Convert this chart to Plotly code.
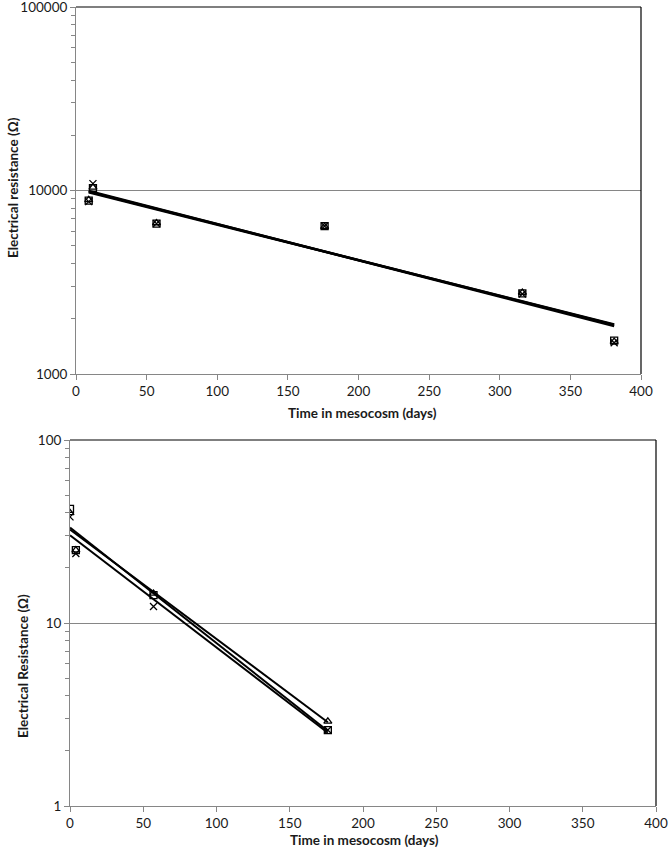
import numpy as np
import plotly.graph_objects as go

# ---------------- data ----------------
top_days = [9, 12, 57, 176, 316, 381]
top_square = [8800, 10300, 6600, 6400, 2750, 1520]
top_triangle = [8900, 10400, 6650, 6350, 2780, 1500]
top_cross = [8700, 10900, 6600, 6400, 2730, 1480]

bot_days = [0, 4, 57, 176]
bot_square = [42, 25, 14.2, 2.6]
bot_triangle = [40, 25, 14.5, 2.9]
bot_cross = [38, 24, 12.3, 2.6]

top_yticks = [1000, 10000, 100000]
bot_yticks = [1, 10, 100]
x_ticks = [0, 50, 100, 150, 200, 250, 300, 350, 400]

FONT = "Lato"
TXT = "#1a1a1a"
fig = go.Figure()

def exp_fit(x, y):
    x = np.asarray(x, float)
    ly = np.log10(np.asarray(y, float))
    b, a = np.polyfit(x, ly, 1)
    xs = np.array([x.min(), x.max()])
    return xs, 10 ** (a + b * xs)

series_top = [(top_square, "square-open"), (top_triangle, "triangle-up-open"), (top_cross, "x-thin-open")]
series_bot = [(bot_square, "square-open"), (bot_triangle, "triangle-up-open"), (bot_cross, "x-thin-open")]

for (vals, sym) in series_top:
    xs, ys = exp_fit(top_days, vals)
    fig.add_trace(go.Scatter(x=xs, y=ys, mode="lines", line=dict(color="black", width=2.4),
                             xaxis="x", yaxis="y", showlegend=False, hoverinfo="skip"))
for (vals, sym) in series_top:
    fig.add_trace(go.Scatter(x=top_days, y=vals, mode="markers",
                             marker=dict(symbol=sym, size=7, color="black",
                                         line=dict(color="black", width=1.3)),
                             xaxis="x", yaxis="y", showlegend=False))

for (vals, sym) in series_bot:
    xs, ys = exp_fit(bot_days, vals)
    fig.add_trace(go.Scatter(x=xs, y=ys, mode="lines", line=dict(color="black", width=2),
                             xaxis="x2", yaxis="y2", showlegend=False, hoverinfo="skip"))
for (vals, sym) in series_bot:
    fig.add_trace(go.Scatter(x=bot_days, y=vals, mode="markers",
                             marker=dict(symbol=sym, size=7, color="black",
                                         line=dict(color="black", width=1.3)),
                             xaxis="x2", yaxis="y2", showlegend=False))

W, H = 669, 859
def px_x(p): return p / W
def px_y(p): return 1 - p / H

axis_common = dict(showline=True, linecolor="#868686", linewidth=1, ticks="outside",
                   tickcolor="#868686", ticklen=5, tickfont=dict(family=FONT, size=13.5, color=TXT),
                   zeroline=False, automargin=False, ticklabeloverflow="allow")

xaxis_common = dict(axis_common, range=[0, 400], tickvals=x_ticks, showgrid=False)

title_font = dict(family=FONT, size=13.5, color=TXT)

fig.update_layout(
    width=W, height=H, margin=dict(l=0, r=0, t=0, b=0),
    paper_bgcolor="white", plot_bgcolor="white",
    xaxis=dict(xaxis_common, domain=[px_x(76), px_x(641)], anchor="y"),
    yaxis=dict(axis_common, type="log", range=[3, 5], domain=[px_y(374), px_y(7)], anchor="x",
               tickvals=top_yticks, ticktext=[str(v) for v in top_yticks],
               showgrid=True, gridcolor="#868686", gridwidth=1,
               minor=dict(ticks="outside", ticklen=4, tickcolor="#868686", dtick="D1", showgrid=False)),
    xaxis2=dict(xaxis_common, domain=[px_x(70), px_x(656)], anchor="y2"),
    yaxis2=dict(axis_common, type="log", range=[0, 2], domain=[px_y(806), px_y(440)], anchor="x2",
                tickvals=bot_yticks, ticktext=[str(v) for v in bot_yticks],
                showgrid=True, gridcolor="#868686", gridwidth=1,
                minor=dict(ticks="outside", ticklen=4, tickcolor="#868686", dtick="D1", showgrid=False)),
    shapes=[
        dict(type="line", xref="x domain", yref="y domain", x0=0, x1=1, y0=1, y1=1, line=dict(color="black", width=1.2)),
        dict(type="line", xref="x domain", yref="y domain", x0=1, x1=1, y0=0, y1=1, line=dict(color="black", width=1.2)),
        dict(type="line", xref="x2 domain", yref="y2 domain", x0=0, x1=1, y0=1, y1=1, line=dict(color="black", width=1.2)),
        dict(type="line", xref="x2 domain", yref="y2 domain", x0=1, x1=1, y0=0, y1=1, line=dict(color="black", width=1.2)),
    ],
    annotations=[
        dict(text="<b>Electrical resistance (Ω)</b>", textangle=-90, font=title_font, showarrow=False,
             xref="paper", yref="paper", x=px_x(13), y=px_y(188), xanchor="center", yanchor="middle"),
        dict(text="<b>Time in mesocosm (days)</b>", font=title_font, showarrow=False,
             xref="paper", yref="paper", x=px_x(362), y=px_y(413), xanchor="center", yanchor="middle"),
        dict(text="<b>Electrical Resistance (Ω)</b>", textangle=-90, font=title_font, showarrow=False,
             xref="paper", yref="paper", x=px_x(23), y=px_y(666), xanchor="center", yanchor="middle"),
        dict(text="<b>Time in mesocosm (days)</b>", font=title_font, showarrow=False,
             xref="paper", yref="paper", x=px_x(364), y=px_y(840), xanchor="center", yanchor="middle"),
    ],
)

fig.write_html("out.html", config={"displayModeBar": False},
               post_script="document.body.style.margin='0px';document.body.style.overflow='hidden';")
